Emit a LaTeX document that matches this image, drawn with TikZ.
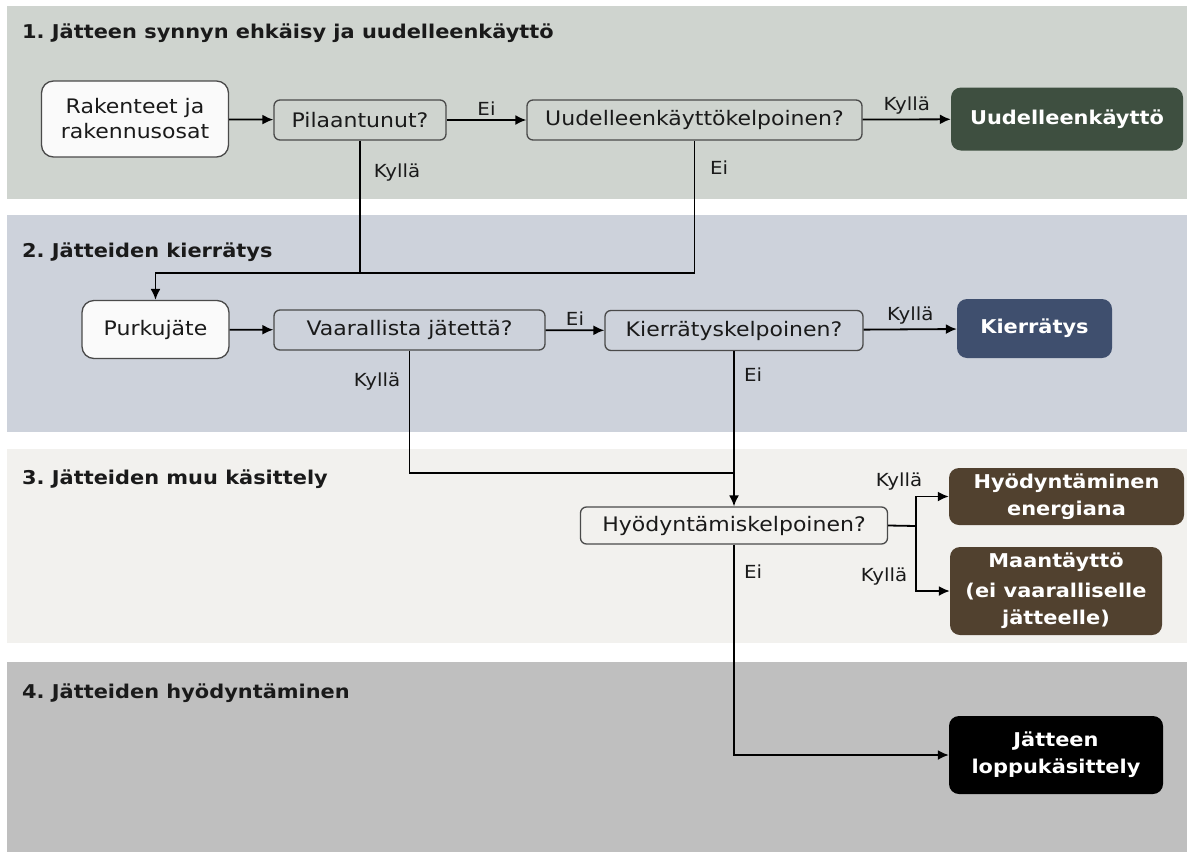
\documentclass[tikz,border=0pt]{standalone}
\usepackage{fontspec}
\setmainfont{DejaVu Sans}[FakeStretch=1.1]
\usepackage{tikz}
\usetikzlibrary{arrows.meta}
\frenchspacing

\definecolor{kaista1}{HTML}{CFD4CF}
\definecolor{kaista2}{HTML}{CDD2DB}
\definecolor{kaista3}{HTML}{F2F1EE}
\definecolor{kaista4}{HTML}{BFBFBF}
\definecolor{reuna}{HTML}{4A4A4A}
\definecolor{valkea}{HTML}{FAFAFA}
\definecolor{teksti}{HTML}{1A1A1A}
\definecolor{vihrea}{HTML}{3E4F40}
\definecolor{sininen}{HTML}{3F4F6E}
\definecolor{ruskea}{HTML}{51412F}

\tikzstyle{lahto} = [draw=reuna, fill=valkea, rounded corners=12pt, line width=1.3pt,
    text=teksti, align=center, font=\fontsize{20}{25}\selectfont]
\tikzstyle{kysymys} = [draw=reuna, rounded corners=6pt, line width=1.3pt,
    minimum height=40pt, text=teksti, font=\fontsize{20}{25}\selectfont]
\tikzstyle{tulos} = [rounded corners=10pt, text=white, align=center,
    font=\bfseries\fontsize{19}{27}\selectfont]
\tikzstyle{merkki} = [text=teksti, inner sep=4pt, font=\fontsize{18}{22}\selectfont]
\tikzstyle{otsikko} = [anchor=base west, inner sep=0pt, text=teksti,
    font=\bfseries\fontsize{19}{24}\selectfont]
\tikzstyle{viiva} = [line width=1.8pt, draw=black]
\tikzstyle{nuoli} = [viiva, -{Latex[length=11pt, width=10pt]}]

\begin{document}
\begin{tikzpicture}[x=1pt, y=-1pt]
    \useasboundingbox (0,0) rectangle (1187,852);

    % vaiheiden taustat
    \fill[kaista1] (7,6) rectangle (1187,199);
    \fill[kaista2] (7,215) rectangle (1187,432);
    \fill[kaista3] (7,449) rectangle (1187,643);
    \fill[kaista4] (7,662) rectangle (1187,852);

    \node[otsikko] (otsikko1) at (22,38) {1. Jätteen synnyn ehkäisy ja uudelleenkäyttö};
    \node[otsikko] (otsikko2) at (22,257) {2. Jätteiden kierrätys};
    \node[otsikko] (otsikko3) at (22,484) {3. Jätteiden muu käsittely};
    \node[otsikko] (otsikko4) at (22,698) {4. Jätteiden hyödyntäminen};

    % 1. vaihe
    \node[lahto, minimum width=187pt, minimum height=76pt] (rakenteet) at (135,119) {Rakenteet ja\\rakennusosat};
    \node[kysymys, minimum width=172pt] (pilaantunut) at (360,120) {Pilaantunut?};
    \node[kysymys, minimum width=335pt] (uudkelp) at (694.5,120) {Uudelleenkäyttökelpoinen?};
    \node[tulos, fill=vihrea, minimum width=232pt, minimum height=63pt] (uudelleenkaytto) at (1067,119) {Uudelleenkäyttö};

    % 2. vaihe
    \node[lahto, minimum width=147pt, minimum height=58pt] (purkujate) at (155.5,329.5) {Purkujäte};
    \node[kysymys, minimum width=271pt] (vaarallista) at (409.5,330) {Vaarallista jätettä?};
    \node[kysymys, minimum width=258pt] (kierkelp) at (734,330.5) {Kierrätyskelpoinen?};
    \node[tulos, fill=sininen, minimum width=155pt, minimum height=59pt] (kierratys) at (1034.5,328.5) {Kierrätys};

    % 3. vaihe
    \node[kysymys, minimum width=307pt, minimum height=37pt] (hyodkelp) at (734,525.5) {Hyödyntämiskelpoinen?};
    \node[tulos, fill=ruskea, minimum width=235pt, minimum height=57pt] (energia) at (1066.5,496.5) {Hyödyntäminen\\energiana};
    \node[tulos, fill=ruskea, minimum width=212pt, minimum height=88pt] (maantaytto) at (1056,591) {Maantäyttö\\[3pt](ei vaaralliselle\\jätteelle)};

    % 4. vaihe
    \node[tulos, fill=black, minimum width=214pt, minimum height=78pt] (loppukas) at (1056,755) {Jätteen\\loppukäsittely};

    % liitoskohdat
    \coordinate (yhd1) at (360,273);
    \coordinate (yhd2) at (734,473);
    \coordinate (haara) at (916,526);

    \draw[nuoli] (rakenteet) -- (pilaantunut);
    \draw[nuoli] (pilaantunut) -- node[merkki, above] (ei1) {Ei} (uudkelp);
    \draw[nuoli] (uudkelp) -- node[merkki, above] (kylla1) {Kyllä} (uudelleenkaytto);
    \draw[viiva] (uudkelp.south) |- (yhd1);
    \draw[nuoli] (pilaantunut.south) -- (yhd1) -| (purkujate.north);
    \node[merkki] (kylla2) at (397,173) {Kyllä};
    \node[merkki] (ei2) at (719,168) {Ei};

    \draw[nuoli] (purkujate) -- (vaarallista);
    \draw[nuoli] (vaarallista) -- node[merkki, above] (ei3) {Ei} (kierkelp);
    \draw[nuoli] (kierkelp) -- node[merkki, above] (kylla3) {Kyllä} (kierratys);
    \draw[viiva] (vaarallista.south) |- (yhd2);
    \draw[nuoli] (kierkelp.south) -- (hyodkelp.north);
    \node[merkki] (kylla4) at (377,382) {Kyllä};
    \node[merkki] (ei4) at (753,375) {Ei};

    \draw[viiva] (hyodkelp.east) -- (haara);
    \draw[nuoli] (haara) |- (energia.west);
    \draw[nuoli] (haara) |- (maantaytto.west);
    \draw[nuoli] (hyodkelp.south) |- (loppukas.west);
    \node[merkki] (kylla5) at (899,482) {Kyllä};
    \node[merkki] (kylla6) at (884,577) {Kyllä};
    \node[merkki] (ei5) at (753,572) {Ei};
\end{tikzpicture}
\end{document}
